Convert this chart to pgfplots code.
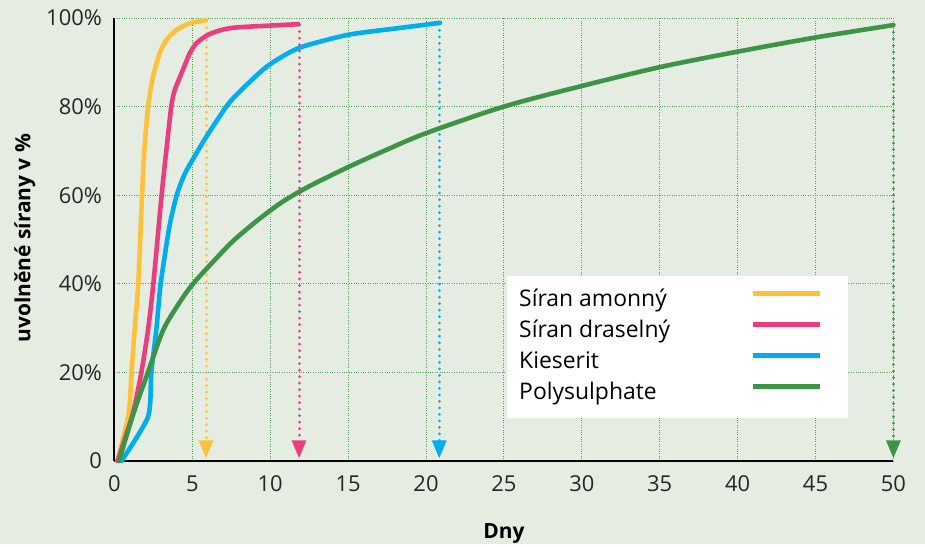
\documentclass[border=0pt]{standalone}
\usepackage{pgfplots}
\pgfplotsset{compat=1.18}
\usetikzlibrary{arrows.meta}
\usepackage{fontspec}
\setmainfont{Open Sans}
\definecolor{bg}{RGB}{229,236,225}
\definecolor{gridc}{RGB}{80,165,80}
\definecolor{cy}{RGB}{255,193,58}
\definecolor{cp}{RGB}{232,62,128}
\definecolor{cb}{RGB}{0,174,239}
\definecolor{cg}{RGB}{62,148,70}
\begin{document}
\begin{tikzpicture}
\fill[bg] (-114.4bp,-83bp) rectangle (810.6bp,461bp);
\begin{axis}[
  at={(0,0)}, anchor=south west,
  scale only axis, width=779bp, height=443bp,
  xmin=0, xmax=50, ymin=0, ymax=100,
  axis x line=bottom, axis y line=left,
  axis line style={-, line width=2.2bp, black},
  xtick={0,5,...,50},
  xticklabels={0,5,10,15,20,25,30,35,40,45,50},
  ytick={0,20,...,100},
  yticklabels={0,20\%,40\%,60\%,80\%,100\%},
  major tick length=0pt,
  grid=major,
  major grid style={gridc, dotted, line width=0.9bp},
  ticklabel style={font=\fontsize{22}{26}\selectfont, text=black!85},
  xticklabel style={anchor=north, yshift=-11bp},
  yticklabel style={anchor=east, xshift=-9bp},
  xlabel={\textbf{Dny}},
  ylabel={\textbf{uvolněné sírany v \%}},
  xlabel style={at={(axis description cs:0.5,-0.163)}, anchor=center, font=\fontsize{21}{25}\selectfont},
  ylabel style={at={(axis description cs:-0.115,0.503)}, anchor=center, rotate=0, font=\fontsize{21}{25}\selectfont},
  clip=false,
  legend plot pos=right,
  legend cell align=left,
  legend image code/.code={\draw[#1, line width=5bp, line cap=butt] (0bp,7bp) -- (67bp,7bp); \path (81bp,0bp);},
  legend style={at={(axis cs:25.2,41.8)}, anchor=north west, fill=white, draw=none,
    inner xsep=12bp, inner ysep=13bp, row sep=8bp,
    nodes={inner sep=0pt, text height=17bp, text depth=6bp, font=\fontsize{23}{27}\selectfont}},
  every axis plot/.append style={line width=4.6bp, line cap=round, line join=round},
]
% dotted arrows
\addplot[forget plot, cy, line width=3bp, line cap=round, dash pattern=on 0.01bp off 6.5bp, -{Triangle[width=14bp,length=18bp]}] coordinates {(5.88,99.3) (5.88,0.6)};
\addplot[forget plot, cp, line width=3bp, line cap=round, dash pattern=on 0.01bp off 6.5bp, -{Triangle[width=14bp,length=18bp]}] coordinates {(11.85,98.4) (11.85,0.6)};
\addplot[forget plot, cb, line width=3bp, line cap=round, dash pattern=on 0.01bp off 6.5bp, -{Triangle[width=14bp,length=18bp]}] coordinates {(20.85,98.7) (20.85,0.6)};
\addplot[forget plot, cg, line width=3bp, line cap=round, dash pattern=on 0.01bp off 6.5bp, -{Triangle[width=14bp,length=18bp]}] coordinates {(50,98.2) (50,0.6)};
% curves
\addplot[cy, smooth, tension=0.35] coordinates {
 (0.2,0) (0.92,10.8) (1.1,20) (1.3,29.6) (1.53,40) (1.79,61.2) (1.92,70) (2.16,80) (2.48,86.8) (2.9,92) (3.33,95) (3.97,97.3) (4.83,98.8) (5.86,99.5)};
\addlegendentry{\makebox[231bp][l]{Síran amonný}}
\addplot[cp, smooth, tension=0.35] coordinates {
 (0.2,0) (1.19,10.8) (1.73,20) (2.16,29.6) (2.5,40) (3.03,60) (3.33,70) (3.65,80) (3.87,83.7) (4.4,88.3) (4.83,92) (5.26,94.3) (6.0,96.2) (6.86,97.3) (7.93,97.9) (11.81,98.6)};
\addlegendentry{\makebox[231bp][l]{Síran draselný}}
\addplot[cb, smooth, tension=0.4] coordinates {
 (0.45,0) (2.16,10) (2.37,20) (2.71,30.3) (2.97,40) (3.53,52.9) (4.0,60) (4.5,64.7) (5.07,68.3) (5.9,73.2) (7.18,80) (7.93,83) (9.77,89) (11.81,93.2) (14.98,96.2) (18.2,97.7) (20.9,98.9)};
\addlegendentry{\makebox[231bp][l]{Kieserit}}
\addplot[cg, smooth, tension=0.5] coordinates {
 (0.3,0) (1.2,10.5) (2.1,19.5) (3.1,29.3) (4.0,34.8) (5.0,39.8) (6.5,45.6) (7.6,49.6) (9.0,53.8) (10.7,58.3) (12.5,62) (15.1,66.5) (17.5,70.3) (20,74) (25,80) (30,84.65) (35,88.9) (40,92.4) (45,95.6) (50,98.4)};
\addlegendentry{\makebox[231bp][l]{Polysulphate}}
\end{axis}
\end{tikzpicture}
\end{document}
